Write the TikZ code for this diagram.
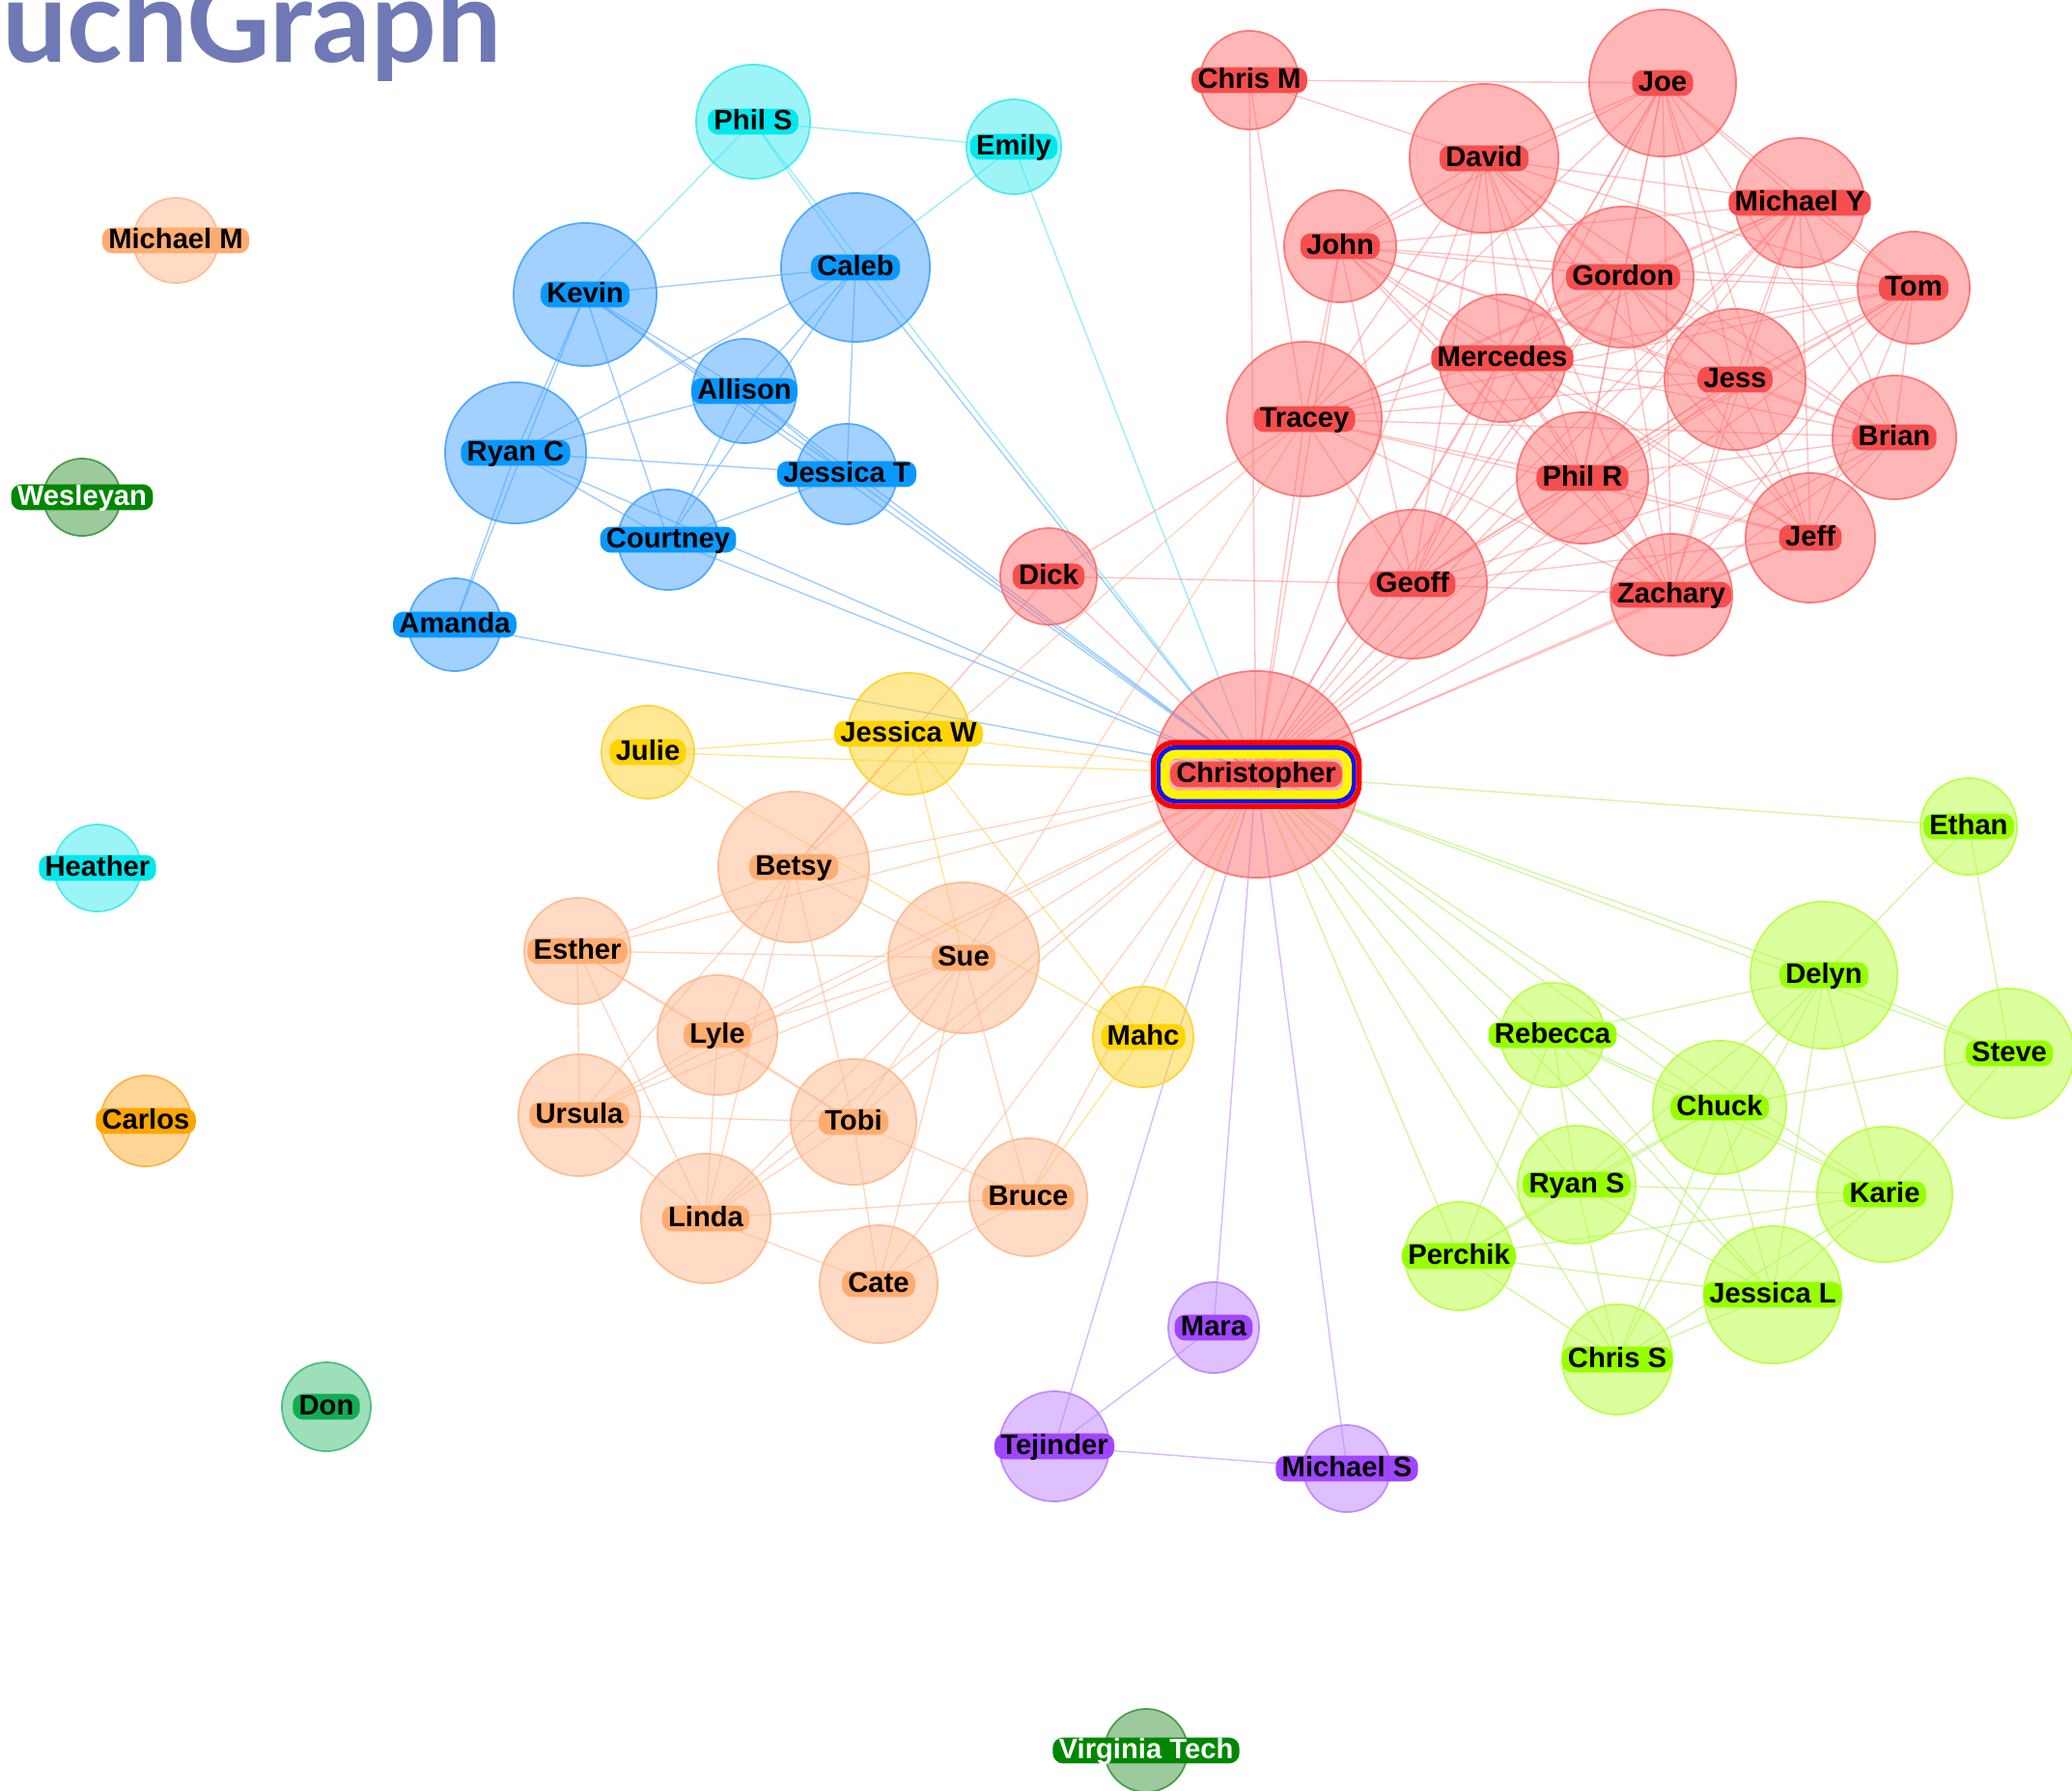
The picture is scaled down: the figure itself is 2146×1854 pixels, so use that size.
\documentclass[tikz,border=0pt]{standalone}
\usepackage{fontspec}
\setmainfont{Liberation Sans}
\newfontfamily\titlefont{Lato}
\pgfdeclarelayer{edges}
\pgfdeclarelayer{bubbles}
\pgfsetlayers{edges,bubbles,main}
\definecolor{titleC}{RGB}{110,121,181}
\definecolor{ringRed}{RGB}{255,0,0}
\definecolor{ringBlue}{RGB}{20,20,230}
\definecolor{ringYel}{RGB}{255,245,0}
\newcommand{\grp}[5]{%
  \definecolor{b#1}{RGB}{#2}\definecolor{t#1}{RGB}{#3}\definecolor{e#1}{RGB}{#4}%
  \tikzset{#1bub/.style={fill=b#1, fill opacity=0.5, draw=b#1, draw opacity=0.9},
           #1tag/.style={fill=t#1},
           #1link/.style={draw=e#1, draw opacity=#5}}}
\grp{red}{255,110,110}{245,78,78}{255,120,120}{0.45}
\grp{blue}{70,165,255}{10,152,255}{80,165,255}{0.55}
\grp{cyan}{60,235,240}{0,232,236}{80,225,240}{0.55}
\grp{peach}{255,185,140}{255,172,112}{255,175,130}{0.5}
\grp{yel}{255,210,40}{255,212,0}{255,210,70}{0.55}
\grp{green}{185,255,60}{150,255,0}{175,240,90}{0.55}
\grp{purp}{190,130,255}{160,70,255}{185,130,255}{0.55}
\grp{dkg}{60,150,60}{0,135,0}{60,150,60}{0.55}
\grp{don}{60,190,120}{20,172,82}{60,190,120}{0.55}
\grp{orng}{255,175,50}{255,165,0}{255,175,50}{0.55}
\tikzset{
  bubble/.style={circle, inner sep=0pt, line width=0.5pt},
  tag/.style={rounded corners=3pt, inner xsep=1.8pt, inner ysep=0pt,
    text height=6.1pt, text depth=1.5pt, text=black,
    font=\bfseries\fontsize{8.3}{9}\selectfont},
  dkgtag/.append style={text=white},
  link/.style={line width=0.4pt},
}
\newcommand{\person}[6]{%
  \begin{pgfonlayer}{bubbles}
    \node[bubble, #5bub, minimum size=#4*0.02cm] (#1) at (#2,#3) {};
  \end{pgfonlayer}
  \node[tag, #5tag] (#1-t) at (#2,#3) {#6};}
\newcommand{\links}[2]{\foreach \a/\b in {#2}{\draw[link,#1] (\a.center) -- (\b.center);}}
\newcommand{\hub}[2]{\foreach \a in {#2}{\draw[link,#1] (\a.center) -- (chris.center);}}
\begin{document}
\begin{tikzpicture}[x=0.01cm,y=-0.01cm]
\useasboundingbox (0,0) rectangle (2146,1854);
% ---------- red cluster
\person{chrism}{1294}{83}{51}{red}{Chris M}
\person{joe}{1722}{86}{76}{red}{Joe}
\person{david}{1537}{164}{77}{red}{David}
\person{michy}{1864}{210}{67}{red}{Michael Y}
\person{john}{1388}{255}{58}{red}{John}
\person{gordon}{1681}{287}{73}{red}{Gordon}
\person{tom}{1982}{298}{58}{red}{Tom}
\person{merc}{1556}{371}{66}{red}{Mercedes}
\person{jess}{1797}{393}{73}{red}{Jess}
\person{tracey}{1351}{434}{80}{red}{Tracey}
\person{brian}{1962}{453}{64}{red}{Brian}
\person{philr}{1639}{495}{68}{red}{Phil R}
\person{jeff}{1875}{557}{67}{red}{Jeff}
\person{dick}{1086}{597}{50}{red}{Dick}
\person{geoff}{1463}{605}{77}{red}{Geoff}
\person{zach}{1731}{616}{63}{red}{Zachary}
% ---------- cyan / blue cluster
\person{phils}{780}{126}{59}{cyan}{Phil S}
\person{emily}{1050}{152}{49}{cyan}{Emily}
\person{kevin}{606}{305}{74}{blue}{Kevin}
\person{caleb}{886}{277}{77}{blue}{Caleb}
\person{allison}{771}{405}{54}{blue}{Allison}
\person{ryanc}{534}{469}{73}{blue}{Ryan C}
\person{jesst}{877}{491}{52}{blue}{Jessica T}
\person{court}{692}{559}{52}{blue}{Courtney}
\person{amanda}{471}{647}{48}{blue}{Amanda}
% ---------- yellow
\person{jessw}{941}{760}{63}{yel}{Jessica W}
\person{julie}{671}{779}{48}{yel}{Julie}
\person{mahc}{1184}{1074}{52}{yel}{Mahc}
% ---------- peach cluster
\person{esther}{598}{985}{55}{peach}{Esther}
\person{betsy}{822}{898}{78}{peach}{Betsy}
\person{sue}{998}{992}{78}{peach}{Sue}
\person{lyle}{743}{1072}{62}{peach}{Lyle}
\person{ursula}{600}{1155}{63}{peach}{Ursula}
\person{tobi}{884}{1162}{65}{peach}{Tobi}
\person{linda}{731}{1262}{67}{peach}{Linda}
\person{bruce}{1065}{1240}{61}{peach}{Bruce}
\person{cate}{910}{1330}{61}{peach}{Cate}
% ---------- green cluster
\person{ethan}{2039}{856}{50}{green}{Ethan}
\person{delyn}{1889}{1010}{76}{green}{Delyn}
\person{steve}{2081}{1091}{67}{green}{Steve}
\person{rebecca}{1608}{1072}{54}{green}{Rebecca}
\person{chuck}{1781}{1147}{69}{green}{Chuck}
\person{ryans}{1633}{1227}{61}{green}{Ryan S}
\person{karie}{1952}{1237}{70}{green}{Karie}
\person{perchik}{1511}{1301}{56}{green}{Perchik}
\person{jessl}{1836}{1341}{71}{green}{Jessica L}
\person{chriss}{1675}{1408}{57}{green}{Chris S}
% ---------- purple
\person{mara}{1257}{1375}{47}{purp}{Mara}
\person{tejinder}{1092}{1498}{57}{purp}{Tejinder}
\person{michs}{1395}{1521}{45}{purp}{Michael S}
% ---------- isolated
\person{vt}{1187}{1813}{43}{dkg}{Virginia Tech}
\person{michm}{182}{249}{44}{peach}{Michael M}
\person{wes}{85}{515}{40}{dkg}{Wesleyan}
\person{heather}{101}{899}{45}{cyan}{Heather}
\person{carlos}{151}{1161}{47}{orng}{Carlos}
\person{don}{338}{1457}{46}{don}{Don}
% ---------- Christopher (hub)
\begin{pgfonlayer}{bubbles}
  \node[bubble, redbub, minimum size=2.14cm] (chris) at (1301,802) {};
\end{pgfonlayer}
\draw[line width=0.055cm, draw=ringRed, rounded corners=0.22cm]
  ([shift={(-106.5,-33)}]chris.center) rectangle ([shift={(106.5,33)}]chris.center);
\draw[line width=0.05cm, draw=ringBlue, rounded corners=0.17cm]
  ([shift={(-101,-27.5)}]chris.center) rectangle ([shift={(101,27.5)}]chris.center);
\draw[line width=0.09cm, draw=ringYel, rounded corners=0.12cm]
  ([shift={(-94.5,-21)}]chris.center) rectangle ([shift={(94.5,21)}]chris.center);
\node[tag, redtag] (chris-t) at (chris.center) {Christopher};
% ---------- connectors
\begin{pgfonlayer}{edges}
\fill[white] (0,0) rectangle (2146,1854);
\foreach \a [count=\i] in {joe,david,michy,john,gordon,tom,merc,jess,tracey,brian,philr,jeff,geoff,zach}{
  \foreach \b [count=\j] in {joe,david,michy,john,gordon,tom,merc,jess,tracey,brian,philr,jeff,geoff,zach}{
    \ifnum\j>\i\relax \draw[link,redlink] (\a.center) -- (\b.center);\fi}}
\links{redlink}{chrism/joe,chrism/david,chrism/tracey,dick/tracey,dick/geoff,dick/betsy}
\hub{redlink}{chrism,joe,david,michy,john,gordon,tom,merc,jess,tracey,brian,philr,jeff,geoff,zach,dick}
\links{cyanlink}{phils/emily,phils/kevin,phils/caleb,emily/caleb}
\hub{cyanlink}{phils,emily}
\links{bluelink}{kevin/caleb,kevin/ryanc,kevin/allison,kevin/jesst,kevin/court,kevin/amanda,
  caleb/allison,caleb/ryanc,caleb/jesst,caleb/court,allison/ryanc,allison/jesst,allison/court,
  ryanc/jesst,ryanc/court,ryanc/amanda,court/jesst}
\hub{bluelink}{kevin,caleb,allison,ryanc,jesst,court,amanda}
\links{yellink}{jessw/julie,julie/mahc,jessw/mahc,jessw/sue,mahc/bruce}
\hub{yellink}{jessw,julie,mahc}
\links{peachlink}{jessw/betsy,esther/betsy,esther/sue,esther/lyle,esther/ursula,esther/linda,esther/tobi,
  betsy/lyle,betsy/ursula,betsy/linda,betsy/tobi,betsy/sue,sue/lyle,sue/ursula,sue/tobi,sue/linda,
  sue/bruce,sue/cate,lyle/ursula,lyle/linda,lyle/tobi,ursula/tobi,ursula/linda,linda/tobi,
  linda/bruce,linda/cate,tobi/cate,tobi/bruce,cate/bruce,betsy/tracey,sue/tracey}
\hub{peachlink}{esther,betsy,sue,lyle,ursula,tobi,linda,bruce,cate}
\links{greenlink}{ethan/delyn,ethan/steve,delyn/rebecca,delyn/steve,delyn/chuck,delyn/ryans,
  delyn/karie,delyn/jessl,delyn/chriss,steve/chuck,steve/karie,rebecca/chuck,rebecca/karie,
  rebecca/ryans,rebecca/perchik,rebecca/jessl,chuck/ryans,chuck/perchik,chuck/karie,chuck/jessl,
  chuck/chriss,ryans/karie,ryans/perchik,ryans/chriss,ryans/jessl,perchik/karie,perchik/jessl,
  perchik/chriss,karie/jessl,karie/chriss,jessl/chriss}
\hub{greenlink}{ethan,delyn,steve,rebecca,chuck,ryans,karie,perchik,jessl,chriss}
\links{purplink}{tejinder/mara,tejinder/michs}
\hub{purplink}{mara,tejinder,michs}
\end{pgfonlayer}
% ---------- title
\node[anchor=base east, inner sep=0pt, text=titleC,
  font=\titlefont\bfseries\fontsize{34}{34}\selectfont] (title) at (520,64) {TouchGraph};
\end{tikzpicture}
\end{document}
